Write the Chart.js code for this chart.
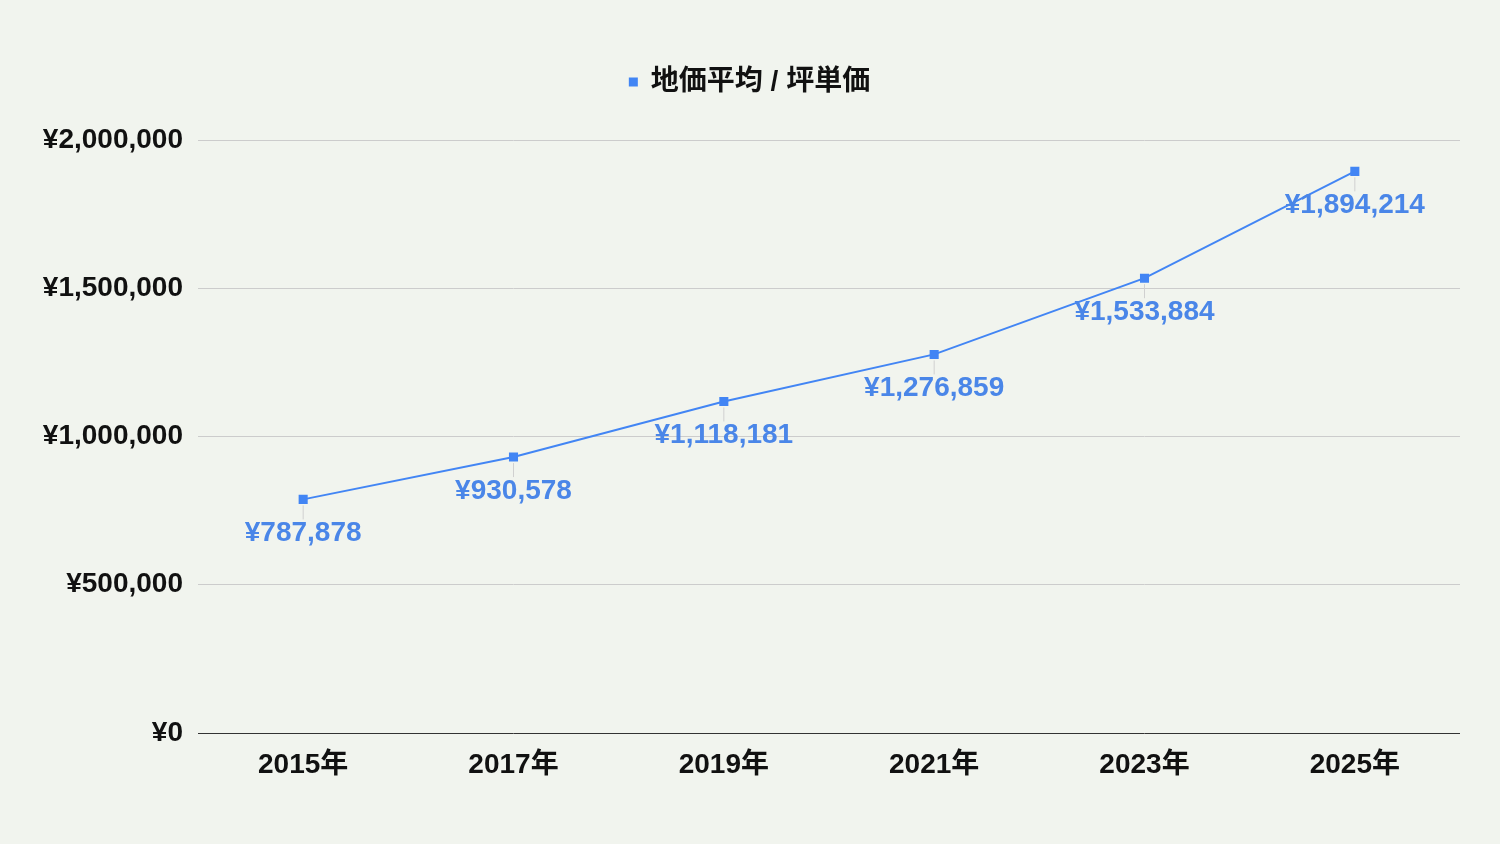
<!DOCTYPE html>
<html>
<head>
<meta charset="utf-8">
<script src="https://cdn.jsdelivr.net/npm/chart.js@4/dist/chart.umd.min.js"></script>
<style>
  html, body { margin: 0; padding: 0; background: #f1f4ee; }
  #wrap { width: 1500px; height: 844px; }
</style>
</head>
<body>
<div id="wrap"><canvas id="chart" width="1500" height="844"></canvas></div>
<script>
const years = ['2015年', '2017年', '2019年', '2021年', '2023年', '2025年'];
const prices = [787878, 930578, 1118181, 1276859, 1533884, 1894214];
const seriesName = '地価平均 / 坪単価';

const FONT = '"Liberation Sans", Arial, "Noto Sans CJK JP", sans-serif';
const BLUE = '#4285f4';
const INK = '#111';

const yen = (v) => '¥' + v.toLocaleString('en-US');

// labels under each point with a thin leader line
const pointLabels = {
  id: 'pointLabels',
  afterDatasetsDraw(chart) {
    const ctx = chart.ctx;
    const meta = chart.getDatasetMeta(0);
    ctx.save();
    ctx.font = 'bold 28px ' + FONT;
    ctx.textAlign = 'center';
    ctx.textBaseline = 'middle';
    meta.data.forEach((pt, i) => {
      ctx.strokeStyle = '#d0d0d0';
      ctx.lineWidth = 1;
      ctx.beginPath();
      ctx.moveTo(pt.x, pt.y + 6);
      ctx.lineTo(pt.x, pt.y + 20);
      ctx.stroke();
      ctx.fillStyle = '#4a86e8';
      ctx.fillText(yen(prices[i]), pt.x, pt.y + 34);
    });
    ctx.restore();
  }
};

// extra space under the legend, and nudge it to the right a bit
const legendGap = {
  id: 'legendGap',
  beforeLayout(chart) {
    const lg = chart.legend;
    if (lg && !lg._gapPatched) {
      const fit = lg.fit;
      lg.fit = function () { fit.call(this); this.height += 34; };
      lg._gapPatched = true;
    }
  },
  afterLayout(chart) {
    const lg = chart.legend;
    if (lg) { lg.left += 20; lg.right += 20; }
  }
};

new Chart(document.getElementById('chart'), {
  type: 'line',
  data: {
    labels: years,
    datasets: [{
      label: seriesName,
      data: prices,
      borderColor: BLUE,
      backgroundColor: BLUE,
      borderWidth: 2,
      pointStyle: 'rect',
      pointRadius: 5,
      pointHoverRadius: 5,
      tension: 0,
    }],
  },
  options: {
    responsive: false,
    animation: false,
    layout: { padding: { top: 58, right: 40, bottom: 0, left: 0 } },
    plugins: {
      legend: {
        labels: {
          usePointStyle: true,
          pointStyle: 'rect',
          boxWidth: 7,
          boxHeight: 7,
          color: INK,
          font: { family: FONT, size: 28, weight: 'bold' },
          padding: 10,
        },
      },
      tooltip: { enabled: false },
    },
    scales: {
      x: {
        offset: true,
        grid: { display: false },
        border: { display: false },
        ticks: {
          color: INK,
          padding: 7,
          font: { family: FONT, size: 28, weight: 'bold' },
        },
        afterFit(scale) { scale.height = 111; },
      },
      y: {
        min: 0,
        max: 2000000,
        border: { display: false },
        grid: {
          color: (c) => (c.tick.value === 0 ? '#333' : '#cccccc'),
          lineWidth: 1,
          drawTicks: false,
        },
        ticks: {
          stepSize: 500000,
          color: INK,
          padding: 15,
          font: { family: FONT, size: 28, weight: 'bold' },
          callback: (v) => yen(v),
        },
        afterFit(scale) { scale.width = 198; },
      },
    },
  },
  plugins: [legendGap, pointLabels],
});
</script>
</body>
</html>
